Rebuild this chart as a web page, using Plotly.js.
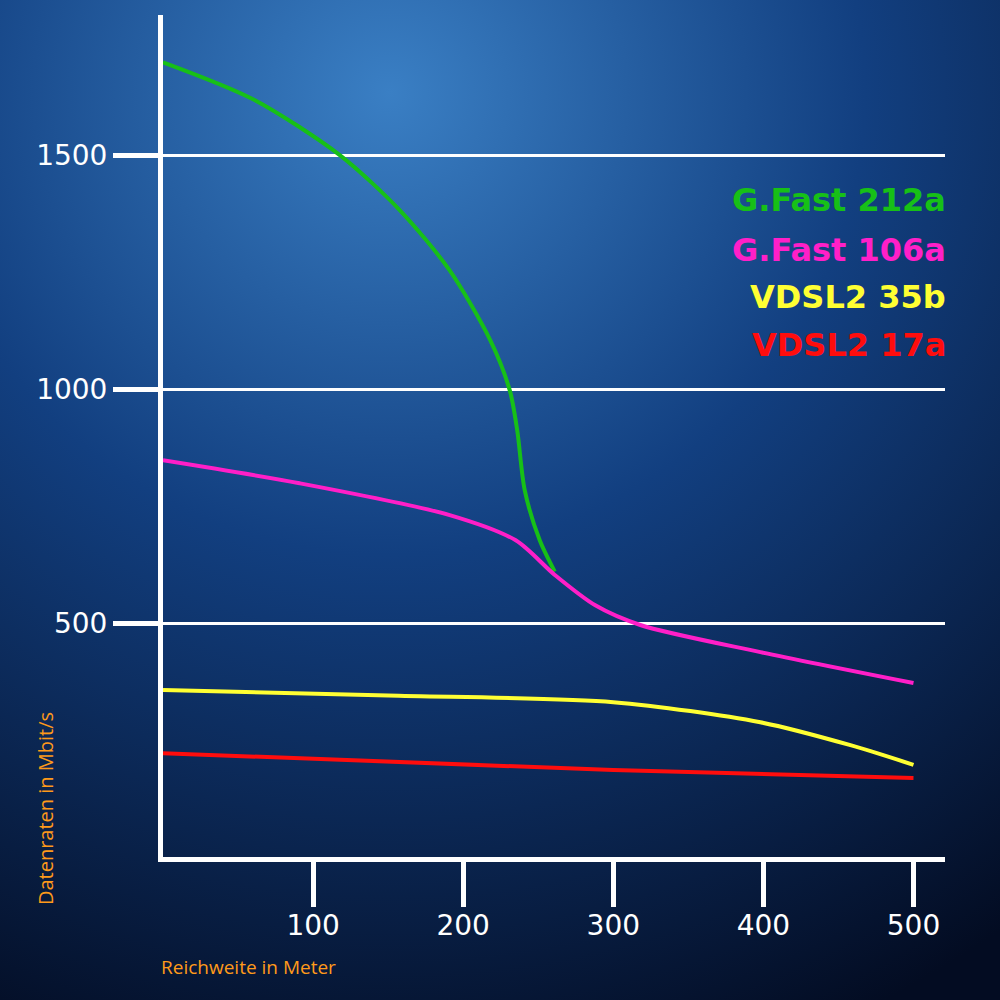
<!DOCTYPE html>
<html>
<head>
<meta charset="utf-8">
<script src="https://cdn.plot.ly/plotly-3.0.1.min.js"></script>
<style>body{margin:0;background:#0a2450}</style>
</head>
<body>
<div id="chart" style="width:1000px;height:1000px"></div>
<script>
// data (metres, Mbit/s)
var gfast212X = [0, 60, 118, 158, 191, 218, 231, 236, 241, 251, 261];
var gfast212Y = [1699, 1620, 1500, 1382, 1254, 1105, 998, 912, 784, 677, 610];
var gfast106X = [0, 91, 191, 235, 261, 288, 318, 398, 500];
var gfast106Y = [848, 799, 731, 677, 603, 538, 496, 438, 372];
var vdsl35X = [0, 150, 300, 398, 458, 500];
var vdsl35Y = [357, 345, 331, 288, 239, 197];
var vdsl17X = [0, 300, 500];
var vdsl17Y = [222, 186, 169];

var names = ['G.Fast 212a', 'G.Fast 106a', 'VDSL2 35b', 'VDSL2 17a'];
var colors = ['#17c017', '#ff1fc8', '#ffff33', '#ff0d0d'];
var legendY = [0.78, 0.721, 0.665, 0.608];

function line(x, y, i) {
  return {x: x, y: y, mode: 'lines', name: names[i],
    line: {color: colors[i], width: 4, shape: 'spline', smoothing: 0.8}};
}

var data = [
  line(gfast212X, gfast212Y, 0),
  line(gfast106X, gfast106Y, 1),
  line(vdsl35X, vdsl35Y, 2),
  line(vdsl17X, vdsl17Y, 3)
];

var bg = 'data:image/svg+xml;utf8,' + encodeURIComponent(
  '<svg xmlns="http://www.w3.org/2000/svg" width="1000" height="1000">' +
  '<defs><radialGradient id="g" cx="0.4" cy="0.1" r="1">' +
  '<stop offset="0" stop-color="#3a7fc4"/><stop offset="0.45" stop-color="#123f80"/>' +
  '<stop offset="1" stop-color="#030c22"/></radialGradient></defs>' +
  '<rect width="1000" height="1000" fill="url(#g)"/></svg>');

var annotations = names.map(function (n, i) {
  return {text: '<b>' + n + '</b>', xref: 'paper', yref: 'paper', x: 1.004, y: legendY[i],
    xanchor: 'right', yanchor: 'middle', showarrow: false,
    font: {family: 'DejaVu Sans', size: 32, color: colors[i]}};
});
annotations.push({text: 'Reichweite in Meter', xref: 'paper', yref: 'paper', x: -0.005, y: -0.131,
  xanchor: 'left', yanchor: 'middle', showarrow: false, font: {family: 'Open Sans', size: 19, color: '#ff9a1a'}});
annotations.push({text: 'Datenraten in Mbit/s', xref: 'paper', yref: 'paper', x: -0.151, y: 0.058,
  xanchor: 'center', yanchor: 'middle', textangle: -90, showarrow: false,
  font: {family: 'Open Sans', size: 20, color: '#ff9a1a'}});

var layout = {
  width: 1000, height: 1000,
  margin: {l: 163, r: 55, t: 15, b: 143},
  paper_bgcolor: '#0a2450', plot_bgcolor: 'rgba(0,0,0,0)',
  showlegend: false,
  images: [{source: bg, xref: 'paper', yref: 'paper', x: -0.25, y: 1.03, sizex: 1.35, sizey: 1.22,
    sizing: 'stretch', layer: 'below'}],
  xaxis: {range: [0, 521], tickvals: [100, 200, 300, 400, 500], ticks: 'outside', ticklen: 45,
    tickwidth: 5, tickcolor: 'white', showgrid: false, zeroline: false, showline: true,
    linecolor: 'white', linewidth: 5, ticklabelstandoff: -6,
    tickfont: {family: 'DejaVu Sans', size: 28, color: 'white'}},
  yaxis: {range: [0, 1800], tickvals: [500, 1000, 1500], ticks: 'outside', ticklen: 45,
    tickwidth: 5, tickcolor: 'white', showgrid: true, gridcolor: 'white', gridwidth: 3,
    zeroline: false, showline: true, linecolor: 'white', linewidth: 5,
    tickfont: {family: 'DejaVu Sans', size: 28, color: 'white'}},
  annotations: annotations
};

Plotly.newPlot('chart', data, layout, {displayModeBar: false});
</script>
</body>
</html>
